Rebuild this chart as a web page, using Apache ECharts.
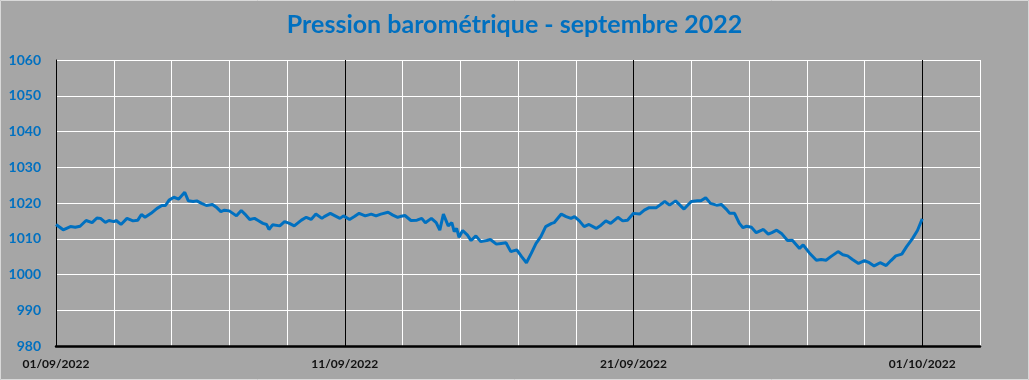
<!DOCTYPE html>
<html>
<head>
<meta charset="utf-8">
<script src="https://cdn.jsdelivr.net/npm/echarts@6/dist/echarts.min.js"></script>
<style>
html,body{margin:0;padding:0;background:#a6a6a6;}
#chart{width:1029px;height:380px;}
</style>
</head>
<body>
<div id="chart"></div>
<script>
// hours since 01/09/2022 00:00
const hours = [0,6,12,16,20,25,30,34,37,41,44,48,50,54,59,64,68,71,74,79,84,88,91,94,98,102,107,110,114,117,121,125,130,133,137,140,
144,150,154,157,161,165,168,172,175,177,180,186,190,194,198,204,208,212,216,221,223,228,232,236,239,244,248,252,257,262,266,270,276,280,284,
286,290,295,300,304,307,312,316,319,322,326,329,331,333,335,338,342,345,349,353,358,361,366,370,374,378,383,387,391,395,399,403,407,412,414,420,424,428,431,
435,439,443,449,453,457,461,467,471,475,480,485,489,493,499,506,510,515,522,528,533,536,540,544,549,553,557,560,564,568,571,574,578,
582,588,592,595,599,603,608,612,618,621,626,632,636,640,644,650,654,658,662,667,672,676,680,685,690,694,698,703,707,712,716,720];
const pressure = [1014.0,1012.5,1013.4,1013.2,1013.5,1015.1,1014.5,1015.8,1015.7,1014.6,1015.1,1014.8,1015.1,1014.0,1015.7,1015.0,1015.2,1016.8,1016.0,1017.1,1018.5,1019.3,1019.3,1020.8,1021.6,1021.1,1023.0,1020.6,1020.4,1020.6,1019.9,1019.3,1019.6,1018.9,1017.6,1018.0,
1017.8,1016.4,1017.9,1016.9,1015.4,1015.7,1015.1,1014.3,1014.0,1012.6,1013.9,1013.6,1014.8,1014.3,1013.6,1015.2,1016.0,1015.4,1016.9,1015.7,1016.2,1017.1,1016.4,1015.7,1016.4,1015.4,1016.2,1017.1,1016.4,1016.9,1016.4,1016.9,1017.4,1016.6,1016.0,
1016.2,1016.5,1015.1,1015.2,1015.7,1014.5,1015.7,1014.5,1012.4,1016.9,1013.6,1014.5,1012.0,1012.9,1010.4,1012.3,1011.0,1009.5,1010.8,1009.2,1009.5,1009.8,1008.5,1008.7,1008.9,1006.4,1006.9,1005.0,1003.3,1005.9,1008.7,1010.6,1013.4,1014.3,1014.5,1016.9,1016.2,1015.7,1016.2,
1015.0,1013.4,1014.0,1012.9,1013.8,1015.0,1014.3,1016.0,1015.0,1015.2,1017.1,1016.9,1018.0,1018.7,1018.7,1020.4,1019.4,1020.6,1018.3,1020.4,1020.6,1020.6,1021.5,1019.9,1019.4,1019.6,1018.3,1017.1,1017.1,1014.3,1013.1,1013.5,1013.2,
1011.7,1012.6,1011.3,1011.7,1012.4,1011.5,1009.5,1009.6,1007.3,1008.3,1006.1,1004.0,1004.2,1004.0,1005.0,1006.4,1005.5,1005.2,1004.2,1003.1,1003.9,1003.3,1002.4,1003.3,1002.5,1003.9,1005.2,1005.7,1007.8,1010.1,1012.3,1015.6];
const xLabels = ['01/09/2022','11/09/2022','21/09/2022','01/10/2022'];
const yMin = 980, yMax = 1060, yStep = 10;
const title = 'Pression barométrique - septembre 2022';

const chart = echarts.init(document.getElementById('chart'), null, {renderer:'canvas'});
chart.setOption({
  backgroundColor:'#a6a6a6',
  animation:false,
  title:{
    text:title, left:'center', top:7,
    textStyle:{color:'#0070c0', fontFamily:'Lato', fontWeight:'bold', fontSize:25}
  },
  graphic:[{type:'rect', shape:{x:0.5,y:0.5,width:1028,height:379}, style:{fill:'none', stroke:'#d9d9d9', lineWidth:1}, silent:true}],
  grid:{left:56, right:49, top:60, bottom:34},
  xAxis:{
    type:'value', min:0, max:768, interval:48,
    axisLine:{show:true, onZero:false, lineStyle:{color:'#000', width:2.5}},
    axisTick:{show:false},
    splitLine:{show:true, lineStyle:{color:['#000','#fff','#fff','#fff','#fff'], width:1}},
    axisLabel:{
      margin:12, color:'#111', fontFamily:'Lato', fontWeight:'bold', fontSize:12,
      showMaxLabel:true, showMinLabel:true,
      formatter:function(v){ return (v % 240 === 0) ? (xLabels[v/240] || '') : ''; }
    }
  },
  yAxis:{
    type:'value', min:yMin, max:yMax, interval:yStep,
    axisLine:{show:true, lineStyle:{color:'#000', width:1}},
    axisTick:{show:false},
    splitLine:{show:true, lineStyle:{color:'#fff', width:1}},
    axisLabel:{margin:15, color:'#0070c0', fontFamily:'Lato', fontWeight:'bold', fontSize:14,
      formatter:function(v){ return String(v); }}
  },
  series:[{
    type:'line', data:hours.map((h,i)=>[h, pressure[i]]),
    symbol:'none', smooth:false,
    lineStyle:{color:'#0070c0', width:3}
  }]
});
</script>
</body>
</html>
